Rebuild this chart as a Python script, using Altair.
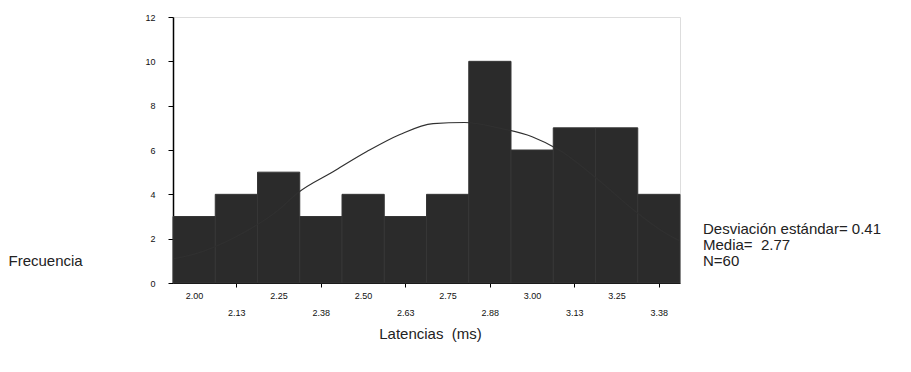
import altair as alt
import pandas as pd

# ---- data ----
bin_centers = [2.000, 2.125, 2.250, 2.375, 2.500, 2.625, 2.750, 2.875, 3.000, 3.125, 3.250, 3.375]
tick_labels = ["2.00", "2.13", "2.25", "2.38", "2.50", "2.63", "2.75", "2.88", "3.00", "3.13", "3.25", "3.38"]
counts = [3, 4, 5, 3, 4, 3, 4, 10, 6, 7, 7, 4]
bin_width = 0.125

# normal curve, points
curve_x = [1.94, 2.00, 2.125, 2.25, 2.307, 2.411, 2.511, 2.609, 2.707, 2.80, 2.90, 3.00, 3.08, 3.20, 3.30, 3.40, 3.4375]
curve_y = [1.1, 1.3, 2.1, 3.3, 4.07, 5.02, 5.93, 6.70, 7.19, 7.24, 7.0, 6.6, 6.0, 4.6, 3.3, 2.2, 1.9]

stats_lines = ["Desviación estándar= 0.41", "Media=\u00a0 2.77", "N=60"]
y_ticks = [0, 2, 4, 6, 8, 10, 12]

FONT = "Liberation Sans"

bars_df = pd.DataFrame({
    "lo": [c - bin_width / 2 for c in bin_centers],
    "hi": [c + bin_width / 2 for c in bin_centers],
    "count": counts,
    "base": [0] * len(counts),
})
curve_df = pd.DataFrame({"x": curve_x, "y": curve_y})

x0 = bin_centers[0]
idx_expr = f"round((datum.value - {x0}) / {bin_width})"
label_expr = "[" + ",".join(f"'{t}'" for t in tick_labels) + "][" + idx_expr + "]"
odd_test = f"{idx_expr} % 2 == 1"

x_scale = alt.Scale(domain=[bin_centers[0] - bin_width / 2, bin_centers[-1] + bin_width / 2], nice=False, zero=False)
y_scale = alt.Scale(domain=[0, 12], nice=False)

x_axis = alt.Axis(
    values=bin_centers,
    labelExpr=label_expr,
    labelFontSize=9,
    labelFont=FONT,
    labelColor="#111111",
    labelAngle=0,
    labelOverlap=False,
    labelFlush=False,
    tickSize=4,
    tickColor="black",
    tickOpacity={"condition": {"test": odd_test, "value": 1}, "value": 0},
    labelPadding={"condition": {"test": odd_test, "value": 21}, "value": 4},
    domainColor="black",
    domainWidth=1.2,
    grid=False,
    title="Latencias\u00a0 (ms)",
    titleFont=FONT,
    titleFontSize=15,
    titleFontWeight="normal",
    titleColor="#222222",
    titleX=257,
    titleY=50,
    titleAlign="center",
    titleBaseline="middle",
)

y_axis = alt.Axis(
    values=y_ticks,
    labelFontSize=9,
    labelFont=FONT,
    labelColor="#111111",
    labelPadding=13,
    tickSize=5,
    tickColor="black",
    domainColor="black",
    domainWidth=1.5,
    grid=False,
    title="Frecuencia",
    titleFont=FONT,
    titleFontSize=15,
    titleFontWeight="normal",
    titleColor="#222222",
    titleAngle=0,
    titleX=-165,
    titleY=243,
    titleAlign="left",
    titleBaseline="middle",
)

bars = alt.Chart(bars_df).mark_rect(color="#2b2b2b", stroke="#363636", strokeWidth=1).encode(
    x=alt.X("lo:Q", scale=x_scale, axis=x_axis),
    x2="hi:Q",
    y=alt.Y("count:Q", scale=y_scale, axis=y_axis),
    y2="base:Q",
)

curve = alt.Chart(curve_df).mark_line(color="#303030", strokeWidth=1.2, interpolate="monotone", clip=True).encode(
    x=alt.X("x:Q", scale=x_scale),
    y=alt.Y("y:Q", scale=y_scale),
)

stats = alt.Chart(pd.DataFrame({"a": [0]})).mark_text(
    text=stats_lines,
    font=FONT,
    fontSize=15,
    color="#222222",
    align="left",
    baseline="top",
    lineHeight=16,
).encode(x=alt.value(530), y=alt.value(205))

chart = alt.layer(bars, curve, stats).properties(
    width=507,
    height=266,
    autosize="none",
    padding={"left": 165, "top": 9, "right": 223, "bottom": 70},
).configure_view(stroke="black", strokeWidth=1.2).configure(background="white")

chart.save("out.html", embed_options={"renderer": "svg", "actions": False})
